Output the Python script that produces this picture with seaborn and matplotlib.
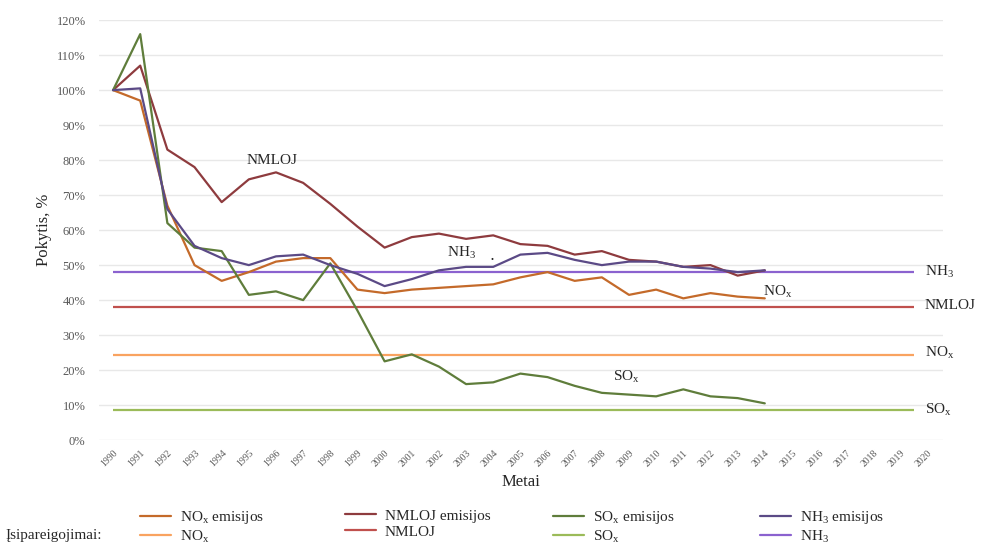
from matplotlib import pyplot as plt
import seaborn as sns
import numpy as np
import pandas as pd

years = list(range(1990, 2015))
nox = [100, 97, 67, 50, 45.5, 48, 51, 52, 52, 43, 42, 43, 43.5, 44, 44.5, 46.5,
       48, 45.5, 46.5, 41.5, 43, 40.5, 42, 41, 40.5]
nmloj = [100, 107, 83, 78, 68, 74.5, 76.5, 73.5, 67.5, 61, 55, 58, 59, 57.5, 58.5, 56,
         55.5, 53, 54, 51.5, 51, 49.5, 50, 47, 48.5]
sox = [100, 116, 62, 55, 54, 41.5, 42.5, 40, 50.5, 37, 22.5, 24.5, 21, 16, 16.5, 19,
       18, 15.5, 13.5, 13, 12.5, 14.5, 12.5, 12, 10.5]
nh3 = [100, 100.5, 66, 55.5, 52, 50, 52.5, 53, 50, 47.5, 44, 46, 48.5, 49.5, 49.5, 53,
       53.5, 51.5, 50, 51, 51, 49.5, 49, 48, 48.5]

# commitments (2020 targets, % of 1990)
targets = {'NOx': 24.3, 'NMLOJ': 38.1, 'SOx': 8.6, 'NH3': 47.9}
tick_years = list(range(1990, 2021))

sns.set_style('white')
plt.rcParams['font.family'] = ['Liberation Serif', 'DejaVu Serif']
plt.rcParams['mathtext.fontset'] = 'custom'
plt.rcParams['mathtext.rm'] = 'Liberation Serif'

names = {'NOx': 'NO$_\\mathregular{x}$', 'NMLOJ': 'NMLOJ',
         'SOx': 'SO$_\\mathregular{x}$', 'NH3': 'NH$_\\mathregular{3}$'}
emis_colors = {'NOx': '#c46a2a', 'NMLOJ': '#8e3b3e', 'SOx': '#5f7d3b', 'NH3': '#5b4a86'}
target_colors = {'NOx': '#f9a360', 'NMLOJ': '#c0504d', 'SOx': '#9bbb59', 'NH3': '#8b62cf'}

df = pd.DataFrame({'year': years * 4,
                   'value': nox + nmloj + sox + nh3,
                   'pollutant': ['NOx'] * 25 + ['NMLOJ'] * 25 + ['SOx'] * 25 + ['NH3'] * 25})

fig = plt.figure(figsize=(9.85, 5.44), dpi=100)
ax = fig.add_axes([0.101, 0.191, 0.856, 0.772])

sns.lineplot(data=df, x='year', y='value', hue='pollutant', palette=emis_colors,
             linewidth=1.6, ax=ax, legend=False, zorder=3)

for key in ['NOx', 'NMLOJ', 'SOx', 'NH3']:
    ax.hlines(targets[key], 1990, 2019.5, color=target_colors[key], linewidth=1.6, zorder=2)

ax.set_xlim(1989.5, 2020.55)
ax.set_ylim(0, 120)
ax.set_yticks(np.arange(0, 121, 10))
ax.set_yticklabels([f'{v}%' for v in range(0, 121, 10)], fontsize=9, color='#595959')
ax.set_xticks(tick_years)
ax.set_xticklabels([str(y) for y in tick_years], rotation=45, ha='right',
                   rotation_mode='anchor', fontsize=7, color='#595959')
ax.tick_params(axis='y', length=0, pad=10)
ax.tick_params(axis='x', length=0, pad=6)
ax.grid(axis='y', color='#e8e8e8', linewidth=1)
for s in ax.spines.values():
    s.set_visible(False)

ax.set_xlabel('Metai', fontsize=12, labelpad=4)
ax.set_ylabel('Pokytis, %', fontsize=12, labelpad=3)

# in-chart labels
ax.text(1995.85, 80, 'NMLOJ', fontsize=11, ha='center', va='center')
ax.text(2002.85, 53.6, names['NH3'], fontsize=11, ha='center', va='center')
ax.text(2003.95, 52.3, '.', fontsize=9, ha='center', va='center', fontweight='bold')
ax.text(2013.95, 42.3, names['NOx'], fontsize=11, ha='left', va='center')
ax.text(2008.9, 18, names['SOx'], fontsize=11, ha='center', va='center')
for key, yv in [('NH3', 48), ('NMLOJ', 38.6), ('NOx', 25), ('SOx', 8.6)]:
    ax.text(2019.9, yv, names[key], fontsize=11, ha='left', va='center')

# legend, one block per pollutant
col_x = [140, 345, 553, 760]
for key, xp in zip(['NOx', 'NMLOJ', 'SOx', 'NH3'], col_x):
    h1 = plt.Line2D([], [], color=emis_colors[key], linewidth=1.6)
    h2 = plt.Line2D([], [], color=target_colors[key], linewidth=1.6)
    fig.legend([h1, h2], [names[key] + ' emisijos', names[key]],
               loc='upper left', bbox_to_anchor=(xp / 985, 1 - 509 / 544),
               frameon=False, fontsize=11, handlelength=2.0, handletextpad=0.6,
               borderpad=0, borderaxespad=0, labelspacing=0.15)
fig.text(5 / 985, 1 - 536 / 544, 'Įsipareigojimai:', fontsize=11, ha='left', va='center')

plt.savefig('out.png', dpi=100)
